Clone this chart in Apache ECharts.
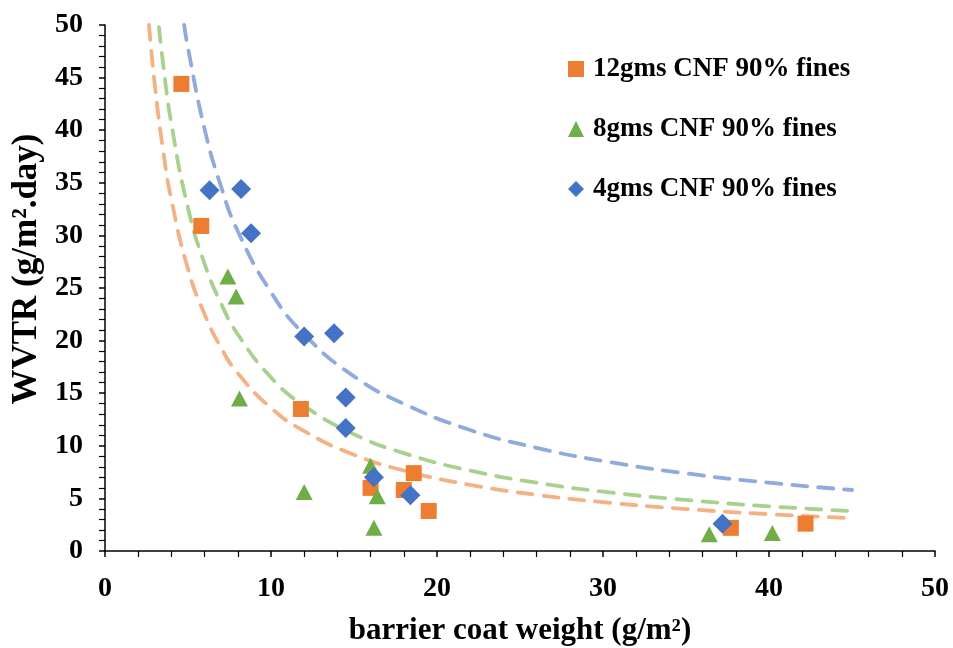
<!DOCTYPE html>
<html><head><meta charset="utf-8">
<script src="https://cdn.jsdelivr.net/npm/echarts@6/dist/echarts.min.js"></script>
<style>html,body{margin:0;padding:0;background:#fff}#c{width:953px;height:648px}</style>
</head><body><div id="c"></div>
<script>
const seriesNames = ['12gms CNF 90% fines', '8gms CNF 90% fines', '4gms CNF 90% fines'];
const xTicks = [0, 10, 20, 30, 40, 50];
const yTicks = [0, 5, 10, 15, 20, 25, 30, 35, 40, 45, 50];

const x12 = [4.6, 5.8, 11.8, 16.0, 18.0, 18.6, 19.5, 37.7, 42.2];
const y12 = [44.4, 30.9, 13.5, 6.0, 5.8, 7.4, 3.8, 2.2, 2.6];
const x8 = [7.4, 7.9, 8.1, 12.0, 16.0, 16.4, 16.2, 36.4, 40.2];
const y8 = [26.1, 24.2, 14.5, 5.6, 8.1, 5.2, 2.2, 1.6, 1.7];
const x4 = [6.3, 8.2, 8.8, 12.0, 13.8, 14.5, 14.5, 16.2, 18.4, 37.2];
const y4 = [34.3, 34.4, 30.2, 20.4, 20.7, 14.6, 11.7, 7.0, 5.3, 2.6];

// trend curves
const tx12 = [2.65, 3, 3.5, 4, 5, 6, 7, 8, 10, 12, 15, 18, 22, 26, 30, 35, 40, 45];
const ty12 = [50.0, 44.3, 38.1, 33.4, 26.8, 22.5, 19.3, 16.9, 13.6, 11.4, 9.15, 7.65, 6.29, 5.34, 4.64, 3.99, 3.50, 3.12];
const tx8 = [3.25, 3.5, 4, 5, 6, 7, 8, 10, 12, 15, 18, 22, 26, 30, 35, 40, 45];
const ty8 = [49.8, 46.3, 40.6, 32.6, 27.3, 23.5, 20.6, 16.5, 13.8, 11.1, 9.30, 7.64, 6.49, 5.64, 4.85, 4.25, 3.79];
const tx4 = [4.77, 5, 6, 7, 8, 10, 12, 15, 18, 22, 26, 30, 35, 40, 45];
const ty4 = [50.0, 47.8, 40.1, 34.6, 30.4, 24.6, 20.6, 16.6, 14.0, 11.5, 9.81, 8.56, 7.38, 6.49, 5.80];

const zip = (a, b) => a.map((v, i) => [v, b[i]]);
const font = 'Liberation Serif';
const chart = echarts.init(document.getElementById('c'), null, {renderer: 'canvas'});

function trend(xs, ys, color) {
  return {type: 'line', data: zip(xs, ys), smooth: true, showSymbol: false, symbol: 'none',
    silent: true, z: 1, clip: true,
    lineStyle: {color: color, width: 3.8, type: [15, 11], cap: 'round'}};
}
function scat(name, xs, ys, symbol, size, color) {
  return {name: name, type: 'scatter', data: zip(xs, ys), symbol: symbol, symbolSize: size,
    z: 5, itemStyle: {color: color, opacity: 1}};
}

const axisLbl = {fontFamily: font, fontWeight: 'bold', fontSize: 28, color: '#000'};
chart.setOption({
  animation: false,
  backgroundColor: '#fff',
  grid: {left: 105, right: 18, top: 25, bottom: 97, containLabel: false, outerBoundsMode: 'none'},
  legend: {
    show: true, orient: 'vertical', left: 563, top: 50, itemGap: 32,
    itemWidth: 16, itemHeight: 16,
    data: [
      {name: seriesNames[0], icon: 'rect'},
      {name: seriesNames[1], icon: 'triangle'},
      {name: seriesNames[2], icon: 'diamond'}
    ],
    textStyle: {fontFamily: font, fontWeight: 'bold', fontSize: 27, lineHeight: 28, color: '#000', padding: [0, 0, 0, 4]}
  },
  xAxis: {
    type: 'value', min: xTicks[0], max: xTicks[xTicks.length - 1], interval: 10,
    name: 'barrier coat weight (g/m²)', nameLocation: 'middle', nameGap: 64,
    nameTextStyle: {fontFamily: font, fontWeight: 'bold', fontSize: 31, color: '#000'},
    axisLine: {show: true, lineStyle: {color: '#000', width: 1.5}},
    axisTick: {show: true, length: 6, lineStyle: {color: '#000', width: 1.5}},
    minorTick: {show: true, splitNumber: 5, length: 6, lineStyle: {color: '#000', width: 1.2}},
    splitLine: {show: false},
    axisLabel: Object.assign({margin: 24}, axisLbl)
  },
  yAxis: {
    type: 'value', min: yTicks[0], max: yTicks[yTicks.length - 1], interval: 5,
    name: 'WVTR (g/m².day)', nameLocation: 'middle', nameGap: 60, nameRotate: 90,
    nameTextStyle: {fontFamily: font, fontWeight: 'bold', fontSize: 35, color: '#000', padding: [0, 0, 0, 38]},
    axisLine: {show: true, lineStyle: {color: '#000', width: 1.5}},
    axisTick: {show: true, length: 6, lineStyle: {color: '#000', width: 1.5}},
    minorTick: {show: true, splitNumber: 5, length: 6, lineStyle: {color: '#000', width: 1.2}},
    splitLine: {show: false},
    axisLabel: Object.assign({margin: 22}, axisLbl)
  },
  series: [
    trend(tx12, ty12, '#F4B183'),
    trend(tx8, ty8, '#A9D18E'),
    trend(tx4, ty4, '#8FAADC'),
    scat(seriesNames[0], x12, y12, 'rect', 16, '#ED7D31'),
    scat(seriesNames[1], x8, y8, 'triangle', [17, 16], '#70AD47'),
    scat(seriesNames[2], x4, y4, 'diamond', 20, '#4472C4')
  ]
});
</script></body></html>
